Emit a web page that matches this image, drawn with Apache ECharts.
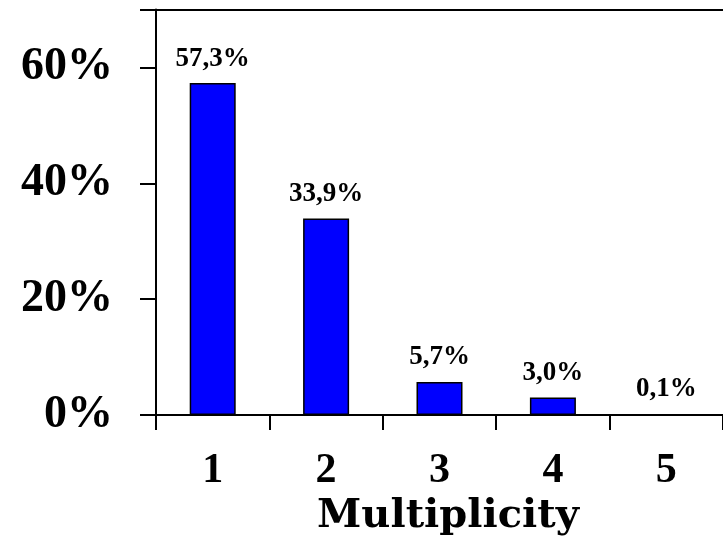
<!DOCTYPE html>
<html>
<head>
<meta charset="utf-8">
<script src="https://cdn.jsdelivr.net/npm/echarts@6/dist/echarts.min.js"></script>
<style>
  html, body { margin: 0; padding: 0; background: #fff; }
  #chart { width: 723px; height: 537px; }
</style>
</head>
<body>
<div id="chart"></div>
<script>
// Share of events by multiplicity
const categories = ['1', '2', '3', '4', '5'];
const shares = [57.3, 33.9, 5.7, 3.0, 0.1];
const yTicks = [0, 20, 40, 60];

const numFont = 'Liberation Serif';
const nameFont = 'DejaVu Serif';

const chart = echarts.init(document.getElementById('chart'));
chart.setOption({
  animation: false,
  grid: {
    left: 156, right: 0, top: 9.5, bottom: 122,
    containLabel: false, outerBoundsMode: 'none'
  },
  xAxis: [
    {
      type: 'category',
      data: categories,
      name: 'Multiplicity',
      nameLocation: 'middle',
      nameGap: 79,
      nameTextStyle: {
        fontFamily: nameFont, fontWeight: 'bold', fontSize: 40, color: '#000',
        padding: [0, 0, 0, 17]
      },
      axisLine: { lineStyle: { color: '#000', width: 2 } },
      axisTick: { show: true, length: 15, lineStyle: { color: '#000', width: 2 } },
      axisLabel: {
        margin: 35, fontFamily: numFont, fontWeight: 'bold', fontSize: 42, color: '#000'
      }
    },
    {
      type: 'category',
      position: 'top',
      data: categories,
      axisLine: { show: true, lineStyle: { color: '#000', width: 2 } },
      axisTick: { show: false },
      axisLabel: { show: false }
    }
  ],
  yAxis: {
    type: 'value',
    min: 0,
    max: 70,
    interval: 20,
    splitLine: { show: false },
    axisLine: { show: true, lineStyle: { color: '#000', width: 2 } },
    axisTick: { show: true, length: 16, lineStyle: { color: '#000', width: 2 } },
    axisLabel: {
      margin: 43,
      fontFamily: numFont, fontWeight: 'bold', fontSize: 46, color: '#000',
      formatter: v => (yTicks.indexOf(v) >= 0 ? v + '%' : '')
    }
  },
  series: [{
    type: 'bar',
    data: shares,
    barWidth: 46,
    itemStyle: { color: '#0000FF', borderColor: '#000', borderWidth: 1.5 },
    label: {
      show: true,
      position: 'top',
      distance: 11,
      fontFamily: numFont, fontWeight: 'bold', fontSize: 27, color: '#000',
      formatter: p => p.value.toFixed(1).replace('.', ',') + '%'
    }
  }]
});
</script>
</body>
</html>
